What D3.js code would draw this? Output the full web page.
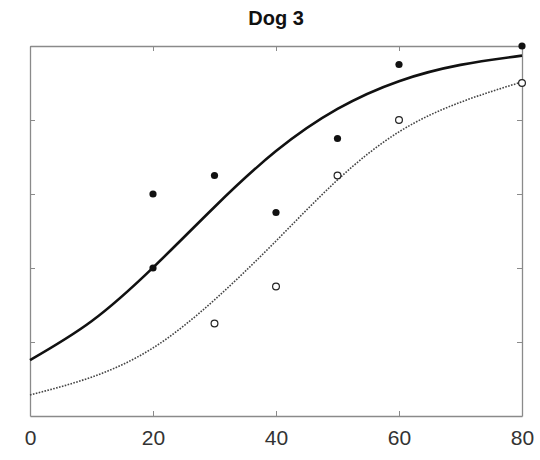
<!DOCTYPE html>
<html>
<head>
<meta charset="utf-8">
<script src="https://cdn.jsdelivr.net/npm/d3@7"></script>
<style>
  body { margin: 0; background: #fff; }
</style>
</head>
<body>
<div id="chart"></div>
<script>

// measured points (filled = first series, open = second series)
const filledX = [20, 20, 30, 40, 50, 60, 80];
const filledY = [0.60, 0.40, 0.65, 0.55, 0.75, 0.95, 1.00];
const openX = [30, 40, 50, 60, 80];
const openY = [0.25, 0.35, 0.65, 0.80, 0.90];

// fitted curves every 10 units
const curveX = [0, 10, 20, 30, 40, 50, 60, 70, 80];
const solidY = [0.151, 0.256, 0.401, 0.565, 0.716, 0.830, 0.905, 0.949, 0.974];
const dottedY = [0.057, 0.105, 0.184, 0.314, 0.473, 0.638, 0.768, 0.848, 0.903];

const xTicks = [0, 20, 40, 60, 80];
const yTicks = [0.2, 0.4, 0.6, 0.8];

const svgWidth = 540;
const svgHeight = 460;
const margin = {top: 46, right: 18, bottom: 44, left: 30};
const width = svgWidth - margin.left - margin.right;
const height = svgHeight - margin.top - margin.bottom;

const svg = d3.select("#chart")
  .append("svg")
    .attr("width", svgWidth)
    .attr("height", svgHeight)
  .append("g")
    .attr("transform", "translate(" + margin.left + "," + margin.top + ")");

const x = d3.scaleLinear().domain([0, 80]).range([0, width]);
const y = d3.scaleLinear().domain([0, 1]).range([height, 0]);

// title
svg.append("text")
  .attr("x", width / 2)
  .attr("y", -21)
  .attr("text-anchor", "middle")
  .style("font-family", "Liberation Sans, Arial, sans-serif")
  .style("font-size", "20px")
  .style("font-weight", "bold")
  .style("fill", "#111")
  .text("Dog 3");

// axes: bottom with labels, others just inward ticks
const axisColor = "#8a8a8a";
function styleAxis(g) {
  g.select(".domain").attr("stroke", axisColor).attr("stroke-width", 1.3);
  g.selectAll(".tick line").attr("stroke", axisColor);
}

svg.append("g")
  .attr("transform", "translate(0," + height + ")")
  .call(d3.axisBottom(x).tickValues(xTicks).tickSize(-5).tickSizeOuter(0).tickPadding(14))
  .call(styleAxis)
  .call(g => g.selectAll(".tick text")
    .style("font-family", "Liberation Sans, Arial, sans-serif")
    .style("font-size", "21px")
    .style("fill", "#333"));

svg.append("g")
  .call(d3.axisTop(x).tickValues(xTicks).tickSize(-5).tickSizeOuter(0).tickFormat(""))
  .call(styleAxis);

svg.append("g")
  .call(d3.axisLeft(y).tickValues(yTicks).tickSize(-5).tickSizeOuter(0).tickFormat(""))
  .call(styleAxis);

svg.append("g")
  .attr("transform", "translate(" + width + ",0)")
  .call(d3.axisRight(y).tickValues(yTicks).tickSize(-5).tickSizeOuter(0).tickFormat(""))
  .call(styleAxis);

// curves
const line = d3.line()
  .x(function(d, i) { return x(curveX[i]); })
  .y(function(d) { return y(d); })
  .curve(d3.curveNatural);

svg.append("path")
  .datum(dottedY)
  .attr("d", line)
  .attr("fill", "none")
  .attr("stroke", "#444")
  .attr("stroke-width", 1.6)
  .attr("stroke-dasharray", "1.6,1.4");

svg.append("path")
  .datum(solidY)
  .attr("d", line)
  .attr("fill", "none")
  .attr("stroke", "#111")
  .attr("stroke-width", 2.6);

// points
svg.selectAll(".open")
  .data(openY)
  .enter()
  .append("circle")
  .attr("cx", function(d, i) { return x(openX[i]); })
  .attr("cy", function(d) { return y(d); })
  .attr("r", 3.4)
  .style("fill", "#fff")
  .style("stroke", "#222")
  .style("stroke-width", 1.2);

svg.selectAll(".filled")
  .data(filledY)
  .enter()
  .append("circle")
  .attr("cx", function(d, i) { return x(filledX[i]); })
  .attr("cy", function(d) { return y(d); })
  .attr("r", 3.6)
  .style("fill", "#111");

</script>
</body>
</html>
